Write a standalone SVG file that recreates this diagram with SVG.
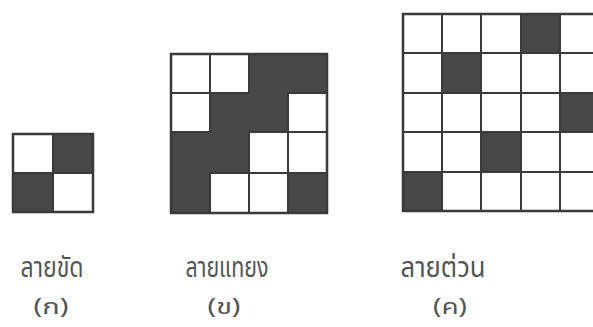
<svg xmlns="http://www.w3.org/2000/svg" width="593" height="327" viewBox="0 0 593 327">
<style>
.w{fill:#ffffff;stroke:#3a3a3a;stroke-width:2}
.d{fill:#474747;stroke:#3a3a3a;stroke-width:2}
.o{fill:none;stroke:#3a3a3a;stroke-width:2.5}
.t{font-family:"Noto Sans Thai","Noto Sans","DejaVu Sans",sans-serif;font-size:29px;fill:#555;text-anchor:middle}
.p{font-family:"Noto Sans Thai","Noto Sans","DejaVu Sans",sans-serif;font-size:22px;fill:#555;text-anchor:middle}
</style>
<rect width="593" height="327" fill="#ffffff"/>
<g id="grid-a">
<rect class="w" x="13" y="134" width="40" height="39"/>
<rect class="d" x="53" y="134" width="40" height="39"/>
<rect class="d" x="13" y="173" width="40" height="39"/>
<rect class="w" x="53" y="173" width="40" height="39"/>
<rect class="o" x="13" y="134" width="80" height="78"/>
</g>
<g id="grid-b">
<path fill="#474747" d="M249 54H327V93H288V132H249V173H210V213H171V132H210V93H249Z"/>
<rect class="d" x="288" y="173" width="39" height="40"/>
<rect class="w" x="171" y="54" width="39" height="39"/>
<rect class="w" x="210" y="54" width="39" height="39"/>
<rect class="w" x="171" y="93" width="39" height="39"/>
<rect class="w" x="288" y="93" width="39" height="39"/>
<rect class="w" x="249" y="132" width="39" height="41"/>
<rect class="w" x="288" y="132" width="39" height="41"/>
<rect class="w" x="210" y="173" width="39" height="40"/>
<rect class="w" x="249" y="173" width="39" height="40"/>
<rect class="o" x="171" y="54" width="156" height="159"/>
</g>
<g id="grid-c">
<rect class="w" x="403" y="14" width="39" height="39"/>
<rect class="w" x="442" y="14" width="39" height="39"/>
<rect class="w" x="481" y="14" width="40" height="39"/>
<rect class="d" x="521" y="14" width="39" height="39"/>
<rect class="w" x="560" y="14" width="39" height="39"/>
<rect class="w" x="403" y="53" width="39" height="40"/>
<rect class="d" x="442" y="53" width="39" height="40"/>
<rect class="w" x="481" y="53" width="40" height="40"/>
<rect class="w" x="521" y="53" width="39" height="40"/>
<rect class="w" x="560" y="53" width="39" height="40"/>
<rect class="w" x="403" y="93" width="39" height="39"/>
<rect class="w" x="442" y="93" width="39" height="39"/>
<rect class="w" x="481" y="93" width="40" height="39"/>
<rect class="w" x="521" y="93" width="39" height="39"/>
<rect class="d" x="560" y="93" width="39" height="39"/>
<rect class="w" x="403" y="132" width="39" height="40"/>
<rect class="w" x="442" y="132" width="39" height="40"/>
<rect class="d" x="481" y="132" width="40" height="40"/>
<rect class="w" x="521" y="132" width="39" height="40"/>
<rect class="w" x="560" y="132" width="39" height="40"/>
<rect class="d" x="403" y="172" width="39" height="39"/>
<rect class="w" x="442" y="172" width="39" height="39"/>
<rect class="w" x="481" y="172" width="40" height="39"/>
<rect class="w" x="521" y="172" width="39" height="39"/>
<rect class="w" x="560" y="172" width="39" height="39"/>
<rect class="o" x="403" y="14" width="196" height="197"/>
</g>
<g id="labels">
<text class="t" x="52" y="277" textLength="63" lengthAdjust="spacingAndGlyphs">ลายขัด</text>
<text class="p" x="51" y="314" textLength="35" lengthAdjust="spacingAndGlyphs">(ก)</text>
<text class="t" x="227" y="277" textLength="83" lengthAdjust="spacingAndGlyphs">ลายแทยง</text>
<text class="p" x="224" y="314" textLength="33" lengthAdjust="spacingAndGlyphs">(ข)</text>
<text class="t" x="443" y="277" textLength="85" lengthAdjust="spacingAndGlyphs">ลายต่วน</text>
<text class="p" x="450" y="314" textLength="34" lengthAdjust="spacingAndGlyphs">(ค)</text>
</g>
</svg>
